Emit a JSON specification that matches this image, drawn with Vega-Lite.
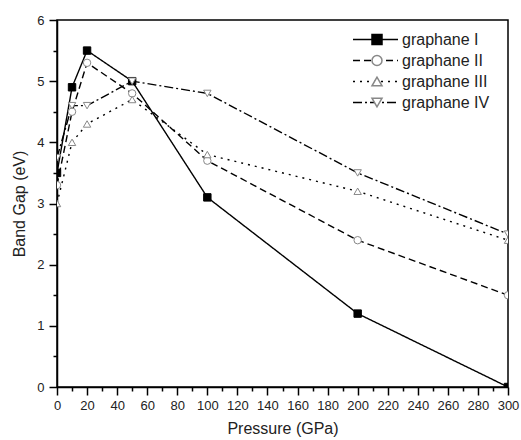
{
  "$schema": "https://vega.github.io/schema/vega-lite/v6.json",
  "width": 451,
  "height": 367,
  "autosize": {"type": "none"},
  "padding": {"left": 57, "top": 20, "right": 13, "bottom": 53},
  "background": "white",
  "config": {
    "font": "Liberation Sans",
    "view": {"stroke": "black", "strokeWidth": 1.5},
    "axis": {
      "domainColor": "black",
      "domainWidth": 1.5,
      "tickColor": "black",
      "tickWidth": 1.5,
      "grid": false,
      "labelColor": "#222",
      "labelFontSize": 13,
      "labelFont": "Liberation Sans",
      "titleFont": "Liberation Sans",
      "titleFontSize": 16,
      "titleFontWeight": "normal",
      "titleColor": "#222"
    },
    "legend": {"labelFont": "Liberation Sans", "labelColor": "#222"}
  },
  "data": {
    "values": [
      {"p": 0, "g": 3.5, "s": "graphane I"},
      {"p": 10, "g": 4.9, "s": "graphane I"},
      {"p": 20, "g": 5.5, "s": "graphane I"},
      {"p": 50, "g": 5.0, "s": "graphane I"},
      {"p": 100, "g": 3.1, "s": "graphane I"},
      {"p": 200, "g": 1.2, "s": "graphane I"},
      {"p": 300, "g": 0.0, "s": "graphane I"},
      {"p": 0, "g": 3.3, "s": "graphane II"},
      {"p": 10, "g": 4.5, "s": "graphane II"},
      {"p": 20, "g": 5.3, "s": "graphane II"},
      {"p": 50, "g": 4.8, "s": "graphane II"},
      {"p": 100, "g": 3.7, "s": "graphane II"},
      {"p": 200, "g": 2.4, "s": "graphane II"},
      {"p": 300, "g": 1.5, "s": "graphane II"},
      {"p": 0, "g": 3.0, "s": "graphane III"},
      {"p": 10, "g": 4.0, "s": "graphane III"},
      {"p": 20, "g": 4.3, "s": "graphane III"},
      {"p": 50, "g": 4.7, "s": "graphane III"},
      {"p": 100, "g": 3.8, "s": "graphane III"},
      {"p": 200, "g": 3.2, "s": "graphane III"},
      {"p": 300, "g": 2.4, "s": "graphane III"},
      {"p": 0, "g": 3.75, "s": "graphane IV"},
      {"p": 10, "g": 4.6, "s": "graphane IV"},
      {"p": 20, "g": 4.6, "s": "graphane IV"},
      {"p": 50, "g": 5.0, "s": "graphane IV"},
      {"p": 100, "g": 4.8, "s": "graphane IV"},
      {"p": 200, "g": 3.5, "s": "graphane IV"},
      {"p": 300, "g": 2.5, "s": "graphane IV"}
    ]
  },
  "layer": [
    {
      "mark": {"type": "line", "color": "black", "strokeWidth": 1.4, "clip": true},
      "encoding": {
        "x": {
          "field": "p", "type": "quantitative",
          "scale": {"domain": [0, 300], "nice": false, "zero": false},
          "axis": {
            "title": "Pressure (GPa)",
            "values": [0, 20, 40, 60, 80, 100, 120, 140, 160, 180, 200, 220, 240, 260, 280, 300],
            "tickSize": 8, "labelPadding": 4, "titlePadding": 8, "labelFlush": false, "labelOverlap": false
          }
        },
        "y": {
          "field": "g", "type": "quantitative",
          "scale": {"domain": [0, 6], "nice": false},
          "axis": {
            "title": "Band Gap (eV)",
            "values": [0, 1, 2, 3, 4, 5, 6],
            "tickSize": 8, "labelPadding": 5, "titlePadding": 9, "labelFlush": false
          }
        },
        "strokeDash": {
          "field": "s", "type": "nominal",
          "scale": {"range": [[1, 0], [7, 4], [2, 5], [9, 3, 2, 3]]},
          "legend": {
            "orient": "none", "legendX": 295, "legendY": 9, "title": null,
            "symbolType": "stroke", "symbolSize": 2025, "symbolStrokeWidth": 1.4,
            "symbolStrokeColor": "black", "labelFontSize": 16, "clipHeight": 21,
            "rowPadding": 0, "padding": 0, "labelOffset": 3
          }
        }
      }
    },
    {
      "mark": {"type": "point", "filled": true, "size": 55, "strokeWidth": 1, "opacity": 1, "clip": true},
      "encoding": {
        "x": {
          "field": "p", "type": "quantitative",
          "axis": {
            "orient": "bottom", "title": null, "labels": false, "domain": false,
            "values": [10, 30, 50, 70, 90, 110, 130, 150, 170, 190, 210, 230, 250, 270, 290],
            "tickSize": 4
          }
        },
        "y": {
          "field": "g", "type": "quantitative",
          "axis": {
            "orient": "left", "title": null, "labels": false, "domain": false,
            "values": [0.5, 1.5, 2.5, 3.5, 4.5, 5.5],
            "tickSize": 4
          }
        },
        "shape": {
          "field": "s", "type": "nominal",
          "scale": {"domain": ["graphane I", "graphane II", "graphane III", "graphane IV"], "range": ["square", "circle", "triangle-up", "triangle-down"]},
          "legend": {
            "orient": "none", "legendX": 312, "legendY": 9, "title": null,
            "labelFontSize": 16, "clipHeight": 21, "rowPadding": 0, "padding": 0,
            "labelExpr": "''"
          }
        },
        "fill": {
          "field": "s", "type": "nominal",
          "scale": {"domain": ["graphane I", "graphane II", "graphane III", "graphane IV"], "range": ["black", "white", "white", "white"]},
          "legend": {
            "orient": "none", "legendX": 312, "legendY": 9, "title": null,
            "labelFontSize": 16, "clipHeight": 21, "rowPadding": 0, "padding": 0,
            "labelExpr": "''"
          }
        },
        "stroke": {
          "field": "s", "type": "nominal",
          "scale": {"domain": ["graphane I", "graphane II", "graphane III", "graphane IV"], "range": ["black", "#888888", "#888888", "#888888"]},
          "legend": {
            "orient": "none", "legendX": 312, "legendY": 9, "title": null,
            "labelFontSize": 16, "clipHeight": 21, "rowPadding": 0, "padding": 0,
            "labelExpr": "''"
          }
        }
      }
    }
  ],
  "resolve": {"axis": {"x": "independent", "y": "independent"}}
}
